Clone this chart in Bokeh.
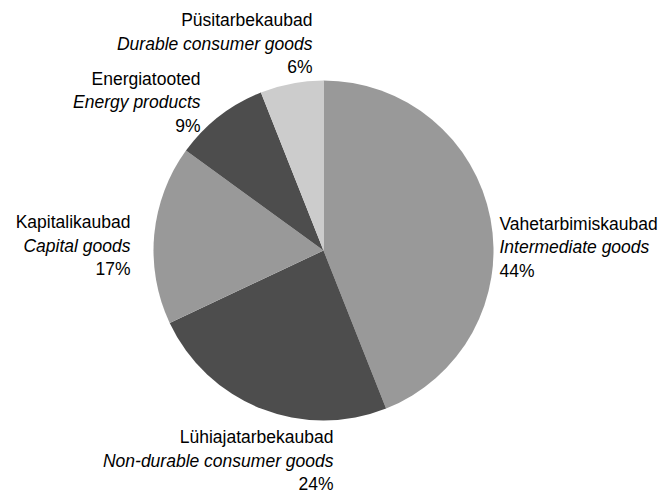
import math
from bokeh.plotting import figure
from bokeh.models import Range1d, ColumnDataSource
from bokeh.core.properties import value
from bokeh.embed import file_html
from bokeh.resources import INLINE

# ---- data ----
names_et = ["Vahetarbimiskaubad", "Lühiajatarbekaubad", "Kapitalikaubad", "Energiatooted", "Püsitarbekaubad"]
names_en = ["Intermediate goods", "Non-durable consumer goods", "Capital goods", "Energy products", "Durable consumer goods"]
shares = [44, 24, 17, 9, 6]

# ---- styles / layout ----
colors = ["#999999", "#4d4d4d", "#999999", "#4d4d4d", "#cccccc"]
WIN_H = 494
M = 0                               # observed page offset of the canvas
W, H = 662, 494
CX, CY, R = 323, 250, 170           # pie centre (picture px) and radius
FONT = "Liberation Sans"
FS = "17.5px"
LINE = 23.5
BASE_SHIFT = -6.5                   # renderer baseline correction
# label anchors: (x, first baseline y, align) in picture px
label_pos = [(499, 229.5, "left"), (333, 443, "right"), (130, 228, "right"),
             (200, 84.5, "right"), (312, 26, "right")]


def py(y):
    return WIN_H - y


p = figure(width=W, height=H, output_backend="svg", toolbar_location=None,
           x_range=Range1d(M, M + W), y_range=Range1d(py(M + H), py(M)),
           min_border=0, outline_line_color=None)
p.axis.visible = False
p.grid.visible = False
p.background_fill_color = "white"
p.border_fill_color = "white"

total = float(sum(shares))
starts, ends = [], []
cum = 0.0
for s in shares:
    a0 = math.pi / 2 - 2 * math.pi * cum / total
    cum += s
    a1 = math.pi / 2 - 2 * math.pi * cum / total
    starts.append(a0)
    ends.append(a1)

src = ColumnDataSource(dict(x=[CX] * len(shares), y=[py(CY)] * len(shares),
                            start=starts, end=ends, color=colors))
p.wedge(x="x", y="y", radius=R, radius_units="screen", start_angle="start",
        end_angle="end", direction="clock", fill_color="color",
        line_color=None, source=src)

for i, (lx, ly, al) in enumerate(label_pos):
    lines = [(names_et[i], "normal"), (names_en[i], "italic"), (f"{shares[i]}%", "normal")]
    for j, (t, style) in enumerate(lines):
        p.text(x=[lx], y=[py(ly + j * LINE + BASE_SHIFT)], text=[t], text_align=al,
               text_baseline="alphabetic", text_font=value(FONT),
               text_font_size=FS, text_font_style=style, text_color="#000000")

open("out.html", "w").write(file_html(p, INLINE))
